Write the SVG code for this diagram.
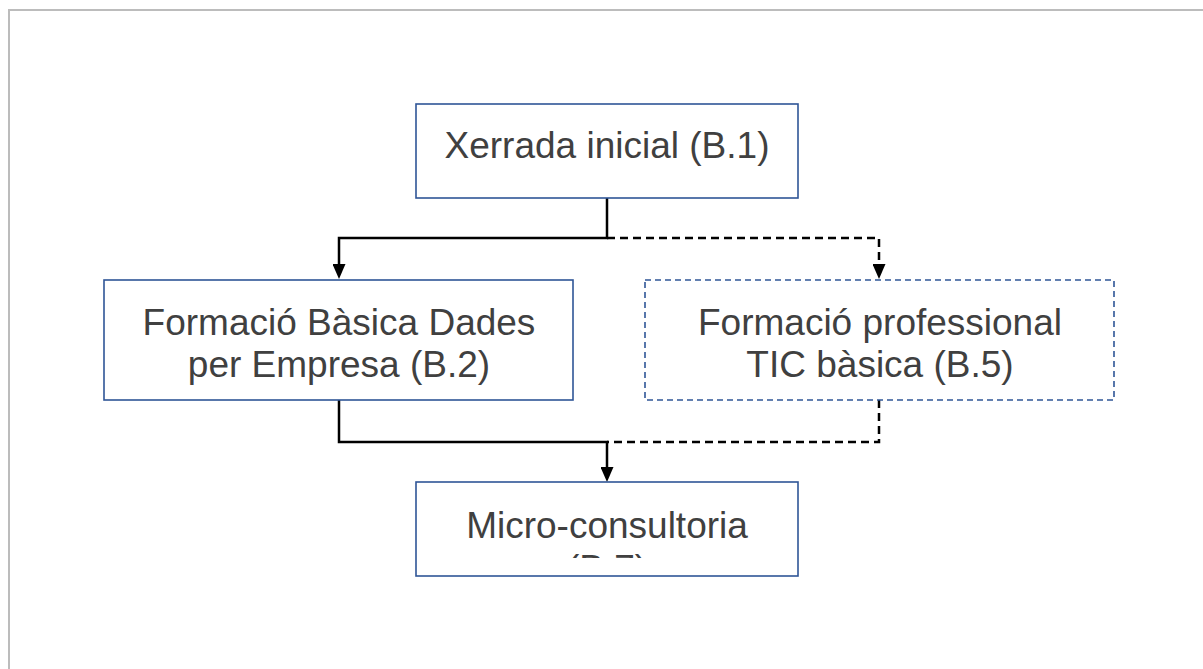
<svg xmlns="http://www.w3.org/2000/svg" width="1203" height="669" viewBox="0 0 1203 669">
  <style>
    .box { fill: #ffffff; stroke: #2f5597; stroke-width: 1.6; }
    .dbox { fill: #ffffff; stroke: #2f5597; stroke-width: 1.6; stroke-dasharray: 6 4; }
    .lbl { font-family: "Liberation Sans", Arial, sans-serif; font-size: 37px; fill: #404040; text-anchor: middle; }
    .ln { fill: none; stroke: #000000; stroke-width: 2.5; }
    .dl { fill: none; stroke: #000000; stroke-width: 2.5; stroke-dasharray: 8 5; }
  </style>
  <defs>
    <marker id="arr" markerUnits="userSpaceOnUse" viewBox="0 0 15 13" markerWidth="15" markerHeight="13" refX="7" refY="6.5" orient="auto">
      <path d="M0,0 L15,6.5 L0,13 z" fill="#000000"/>
    </marker>
    <clipPath id="clipMicro">
      <rect x="416" y="482" width="382" height="76"/>
    </clipPath>
  </defs>
  <rect x="0" y="0" width="1203" height="669" fill="#ffffff"/>
  <rect x="9" y="10" width="1260" height="720" fill="none" stroke="#bcbcbc" stroke-width="2"/>

  <g id="connectors">
    <path class="dl" d="M607,238 H879 V271" marker-end="url(#arr)"/>
    <path class="ln" d="M607,198 V238 H339 V271" marker-end="url(#arr)"/>
    <path class="dl" d="M879,400 V442 H607"/>
    <path class="ln" d="M339,400 V442 H607 V474" marker-end="url(#arr)"/>
  </g>

  <g id="node-b1">
    <rect class="box" x="416" y="104" width="382" height="94"/>
    <text class="lbl" x="607" y="158">Xerrada inicial (B.1)</text>
  </g>

  <g id="node-b2">
    <rect class="box" x="104" y="280" width="469" height="120"/>
    <text class="lbl" x="339" y="335">Formació Bàsica Dades</text>
    <text class="lbl" x="339" y="377">per Empresa (B.2)</text>
  </g>

  <g id="node-b5">
    <rect class="dbox" x="645" y="280" width="469" height="120"/>
    <text class="lbl" x="880" y="335">Formació professional</text>
    <text class="lbl" x="880" y="377">TIC bàsica (B.5)</text>
  </g>

  <g id="node-b7">
    <rect class="box" x="416" y="482" width="382" height="94"/>
    <g clip-path="url(#clipMicro)">
      <text class="lbl" x="607" y="538">Micro-consultoria</text>
      <text class="lbl" x="607" y="581">(B.7)</text>
    </g>
  </g>
</svg>
